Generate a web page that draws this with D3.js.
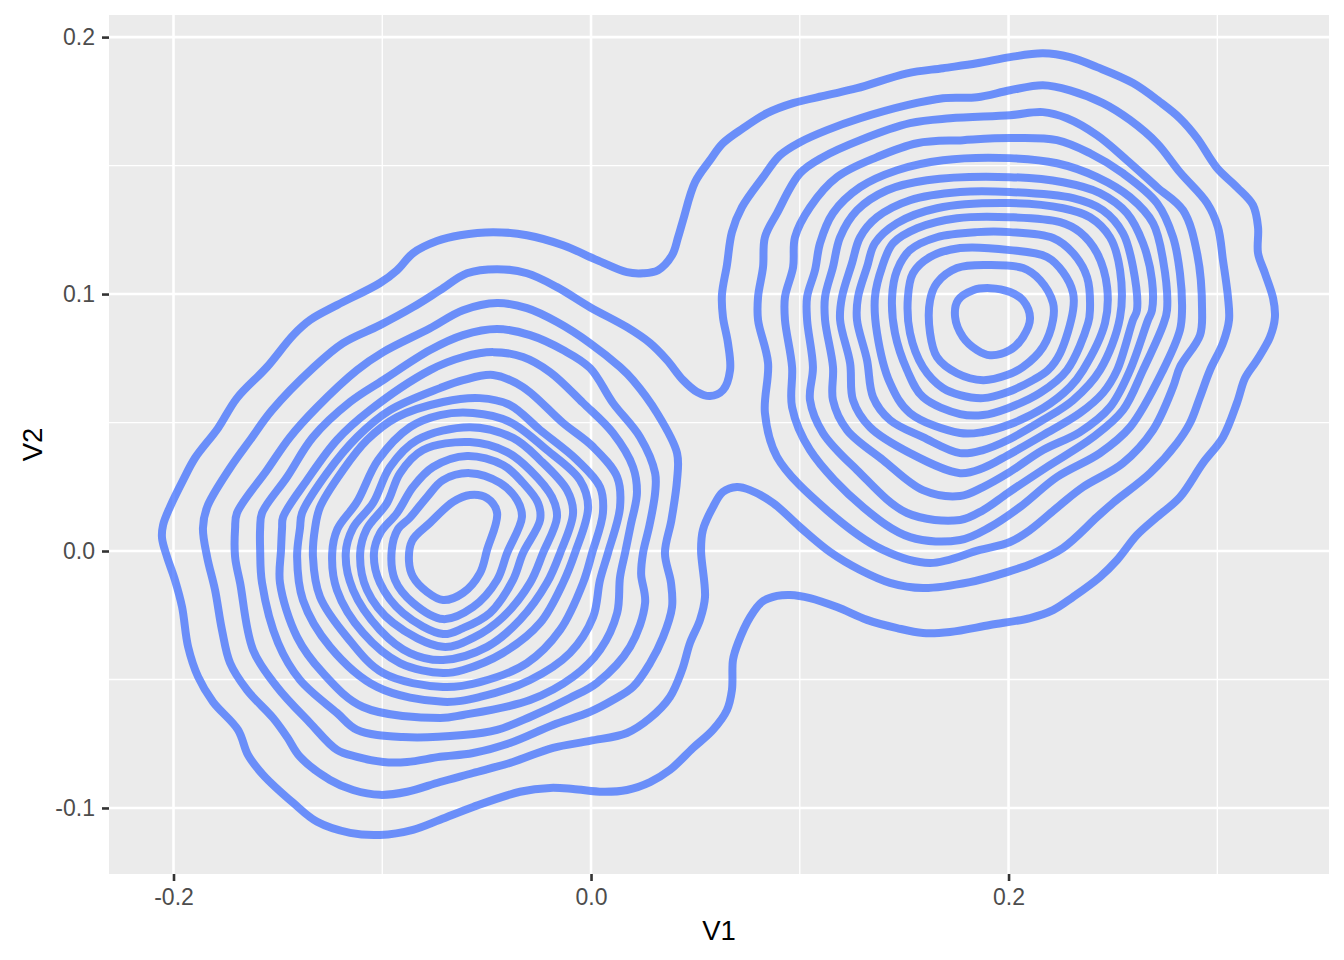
<!DOCTYPE html>
<html>
<head>
<meta charset="utf-8">
<script src="https://d3js.org/d3.v7.min.js"></script>
<style>
html, body { margin: 0; padding: 0; background: #fff; }
svg { display: block; font-family: "Liberation Sans", sans-serif; }
</style>
</head>
<body>
<div id="T"></div>
<script>
// ticks
const xMajor = [-0.2, 0, 0.2];
const xMinor = [-0.1, 0.1, 0.3];
const yMajor = [-0.1, 0, 0.1, 0.2];
const yMinor = [-0.05, 0.05, 0.15];
const xLabels = ["-0.2", "0.0", "0.2"];
const yLabels = ["-0.1", "0.0", "0.1", "0.2"];

// density contours, [V1, V2]
// the two outer ones go round both clusters
const outer1 = [[-.2050,.0101],[-.2017,.0171],[-.1954,.0276],[-.1897,.0362],[-.1787,.0478],[-.1696,.0595],[-.1552,.0716],[-.1427,.0840],[-.1346,.0899],[-.1217,.0957],[-.1011,.1043],[-.0929,.1093],[-.0853,.1159],[-.0738,.1206],[-.0627,.1229],[-.0469,.1241],[-.0307,.1229],[-.0134,.1190],[.0029,.1132],[.0172,.1085],[.0249,.1081],[.0321,.1093],[.0388,.1151],[.0417,.1221],[.0441,.1288],[.0498,.1435],[.0570,.1521],[.0632,.1587],[.0728,.1645],[.0843,.1704],[.0968,.1743],[.1130,.1774],[.1274,.1801],[.1514,.1859],[.1686,.1879],[.1849,.1898],[.2007,.1922],[.2165,.1937],[.2294,.1922],[.2424,.1883],[.2596,.1821],[.2726,.1747],[.2821,.1684],[.2903,.1607],[.2999,.1490],[.3094,.1416],[.3171,.1346],[.3195,.1260],[.3195,.1159],[.3228,.1081],[.3267,.0984],[.3276,.0910],[.3252,.0832],[.3190,.0743],[.3133,.0673],[.3094,.0576],[.3027,.0443],[.2931,.0342],[.2821,.0210],[.2711,.0132],[.2615,.0062],[.2520,-.0035],[.2438,-.0101],[.2309,-.0179],[.2213,-.0230],[.2103,-.0261],[.1911,-.0288],[.1720,-.0315],[.1590,-.0319],[.1466,-.0300],[.1322,-.0268],[.1178,-.0218],[.1049,-.0183],[.0953,-.0171],[.0891,-.0175],[.0819,-.0198],[.0762,-.0257],[.0704,-.0358],[.0680,-.0424],[.0675,-.0541],[.0651,-.0619],[.0584,-.0696],[.0489,-.0766],[.0378,-.0852],[.0283,-.0899],[.0172,-.0930],[.0057,-.0937],[-.0086,-.0926],[-.0196,-.0922],[-.0340,-.0937],[-.0565,-.0996],[-.0723,-.1046],[-.0853,-.1085],[-.1011,-.1105],[-.1154,-.1097],[-.1312,-.1054],[-.1427,-.0980],[-.1571,-.0871],[-.1643,-.0794],[-.1691,-.0696],[-.1811,-.0587],[-.1882,-.0490],[-.1930,-.0373],[-.1959,-.0218],[-.1993,-.0113],[-.2031,-.0023],[-.2055,.0050]];
const outer2 = [[-.1859,.0089],[-.1839,.0171],[-.1729,.0323],[-.1633,.0432],[-.1528,.0548],[-.1332,.0712],[-.1188,.0809],[-.1011,.0879],[-.0853,.0949],[-.0723,.1015],[-.0594,.1081],[-.0450,.1097],[-.0307,.1081],[-.0163,.1027],[-.0005,.0949],[.0172,.0871],[.0283,.0809],[.0364,.0743],[.0441,.0665],[.0508,.0619],[.0570,.0603],[.0632,.0626],[.0666,.0704],[.0656,.0809],[.0632,.0910],[.0627,.0996],[.0651,.1113],[.0675,.1241],[.0723,.1338],[.0824,.1455],[.0905,.1540],[.1001,.1591],[.1130,.1638],[.1289,.1684],[.1514,.1735],[.1686,.1762],[.1849,.1766],[.2007,.1793],[.2165,.1813],[.2294,.1793],[.2452,.1743],[.2582,.1677],[.2711,.1587],[.2821,.1474],[.2951,.1354],[.3003,.1260],[.3027,.1132],[.3051,.0988],[.3056,.0899],[.3027,.0809],[.2965,.0704],[.2917,.0599],[.2869,.0498],[.2807,.0420],[.2678,.0303],[.2500,.0187],[.2424,.0132],[.2261,.0012],[.2117,-.0047],[.1993,-.0082],[.1815,-.0121],[.1590,-.0144],[.1432,-.0124],[.1289,-.0074],[.1145,-.0004],[.1001,.0093],[.0872,.0187],[.0762,.0237],[.0699,.0249],[.0632,.0230],[.0584,.0171],[.0536,.0082],[.0527,.0004],[.0546,-.0179],[.0522,-.0268],[.0474,-.0358],[.0436,-.0463],[.0378,-.0568],[.0283,-.0650],[.0172,-.0708],[-.0005,-.0739],[-.0182,-.0766],[-.0374,-.0821],[-.0565,-.0864],[-.0723,-.0899],[-.0881,-.0937],[-.1011,-.0949],[-.1140,-.0930],[-.1250,-.0891],[-.1394,-.0801],[-.1456,-.0724],[-.1523,-.0650],[-.1648,-.0541],[-.1729,-.0436],[-.1768,-.0307],[-.1801,-.0152],[-.1839,-.0023]];

// left cluster
const left3 = [[-.1705,.0089],[-.1696,.0148],[-.1552,.0315],[-.1442,.0443],[-.1312,.0560],[-.1121,.0704],[-.0996,.0774],[-.0771,.0867],[-.0613,.0937],[-.0450,.0965],[-.0307,.0945],[-.0163,.0891],[-.0005,.0809],[.0139,.0716],[.0201,.0665],[.0316,.0537],[.0412,.0381],[.0412,.0276],[.0385,.0120],[.0354,-.0008],[.0383,-.0124],[.0388,-.0218],[.0345,-.0335],[.0283,-.0436],[.0201,-.0529],[.0105,-.0580],[-.0005,-.0626],[-.0182,-.0677],[-.0388,-.0747],[-.0565,-.0786],[-.0723,-.0801],[-.0881,-.0821],[-.0996,-.0821],[-.1121,-.0801],[-.1217,-.0774],[-.1346,-.0669],[-.1504,-.0529],[-.1619,-.0385],[-.1681,-.0124],[-.1705,-.0023]];
const left4 = [[-.1585,.0089],[-.1576,.0148],[-.1456,.0288],[-.1332,.0443],[-.1154,.0580],[-.0996,.0665],[-.0771,.0782],[-.0613,.0840],[-.0450,.0864],[-.0292,.0840],[-.0134,.0782],[-.0005,.0712],[.0105,.0576],[.0235,.0443],[.0307,.0303],[.0307,.0226],[.0280,.0100],[.0249,-.0008],[.0240,-.0090],[.0259,-.0202],[.0187,-.0373],[.0029,-.0513],[-.0101,-.0572],[-.0292,-.0646],[-.0450,-.0696],[-.0613,-.0716],[-.0901,-.0724],[-.1121,-.0696],[-.1217,-.0630],[-.1394,-.0502],[-.1499,-.0358],[-.1576,-.0124],[-.1585,.0004]];
const left5 = [[-.1480,.0089],[-.1475,.0132],[-.1360,.0276],[-.1217,.0432],[-.1059,.0548],[-.0771,.0704],[-.0613,.0755],[-.0469,.0774],[-.0326,.0755],[-.0196,.0696],[-.0038,.0576],[.0105,.0459],[.0201,.0327],[.0220,.0226],[.0190,.0100],[.0163,-.0008],[.0139,-.0101],[.0125,-.0241],[.0043,-.0385],[-.0086,-.0490],[-.0292,-.0580],[-.0613,-.0638],[-.0723,-.0650],[-.1092,-.0607],[-.1284,-.0475],[-.1408,-.0335],[-.1490,-.0124],[-.1485,.0004]];
const left6 = [[-.1394,.0089],[-.1384,.0148],[-.1265,.0303],[-.1121,.0443],[-.0963,.0548],[-.0723,.0634],[-.0613,.0665],[-.0469,.0685],[-.0326,.0638],[-.0134,.0498],[.0010,.0405],[.0125,.0288],[.0139,.0171],[.0081,-.0008],[.0043,-.0113],[.0010,-.0257],[-.0101,-.0397],[-.0292,-.0502],[-.0532,-.0568],[-.0709,-.0587],[-.1025,-.0529],[-.1250,-.0373],[-.1380,-.0191],[-.1408,-.0023]];
const left7 = [[-.1322,.0089],[-.1298,.0171],[-.1188,.0315],[-.1073,.0432],[-.0929,.0521],[-.0709,.0580],[-.0532,.0595],[-.0388,.0568],[-.0244,.0471],[-.0067,.0354],[.0043,.0249],[.0057,.0148],[.0005,-.0008],[-.0038,-.0124],[-.0148,-.0307],[-.0307,-.0436],[-.0532,-.0510],[-.0709,-.0529],[-.0996,-.0475],[-.1169,-.0335],[-.1298,-.0179],[-.1332,-.0023]];
const left8 = [[-.1240,-.0010],[-.1215,.0085],[-.1121,.0191],[-.1020,.0354],[-.0867,.0482],[-.0723,.0529],[-.0565,.0537],[-.0388,.0502],[-.0211,.0393],[-.0053,.0276],[-.0014,.0171],[-.0077,-.0008],[-.0134,-.0124],[-.0244,-.0280],[-.0422,-.0397],[-.0613,-.0463],[-.0709,-.0475],[-.0915,-.0436],[-.1092,-.0319],[-.1217,-.0152]];
const left9 = [[-.1175,-.0010],[-.1140,.0090],[-.1044,.0187],[-.0963,.0327],[-.0833,.0432],[-.0580,.0482],[-.0374,.0440],[-.0244,.0354],[-.0115,.0237],[-.0086,.0148],[-.0148,-.0008],[-.0211,-.0124],[-.0340,-.0268],[-.0498,-.0373],[-.0709,-.0424],[-.0867,-.0397],[-.1011,-.0307],[-.1140,-.0152]];
const left10 = [[-.1106,-.0010],[-.1075,.0085],[-.0977,.0187],[-.0915,.0303],[-.0805,.0393],[-.0580,.0424],[-.0402,.0385],[-.0292,.0315],[-.0187,.0210],[-.0163,.0132],[-.0230,-.0008],[-.0292,-.0124],[-.0422,-.0257],[-.0565,-.0338],[-.0709,-.0373],[-.0948,-.0280],[-.1073,-.0152]];
const left11 = [[-.1040,-.0010],[-.1010,.0070],[-.0929,.0148],[-.0853,.0249],[-.0757,.0327],[-.0594,.0370],[-.0422,.0335],[-.0326,.0265],[-.0254,.0187],[-.0244,.0121],[-.0326,-.0008],[-.0374,-.0113],[-.0484,-.0241],[-.0613,-.0300],[-.0709,-.0323],[-.0901,-.0241],[-.1011,-.0124]];
const left12 = [[-.0955,.0000],[-.0925,.0085],[-.0867,.0130],[-.0786,.0210],[-.0709,.0276],[-.0580,.0303],[-.0436,.0265],[-.0354,.0198],[-.0331,.0132],[-.0402,-.0008],[-.0450,-.0113],[-.0565,-.0218],[-.0709,-.0265],[-.0853,-.0202],[-.0939,-.0113]];
const left13 = [[-.0872,-.0040],[-.0857,.0040],[-.0771,.0110],[-.0661,.0191],[-.0580,.0218],[-.0498,.0206],[-.0450,.0148],[-.0498,.0004],[-.0532,-.0086],[-.0613,-.0163],[-.0709,-.0191],[-.0786,-.0159],[-.0853,-.0100]];

// right cluster
const right3 = [[.0800,.0988],[.0824,.1105],[.0833,.1221],[.0891,.1315],[.1001,.1470],[.1111,.1533],[.1289,.1599],[.1528,.1665],[.1720,.1684],[.2007,.1696],[.2165,.1708],[.2280,.1684],[.2424,.1618],[.2567,.1521],[.2711,.1416],[.2836,.1326],[.2903,.1159],[.2927,.0937],[.2917,.0840],[.2821,.0716],[.2788,.0638],[.2692,.0471],[.2548,.0342],[.2357,.0249],[.2247,.0179],[.2103,.0082],[.2007,.0035],[.1863,.0004],[.1624,-.0047],[.1399,.0004],[.1130,.0159],[.0891,.0366],[.0833,.0537],[.0848,.0731],[.0800,.0899]];
const right4 = [[.0929,.0988],[.0968,.1105],[.0977,.1221],[.1049,.1338],[.1178,.1455],[.1370,.1533],[.1562,.1587],[.1782,.1599],[.2007,.1607],[.2232,.1599],[.2390,.1548],[.2548,.1470],[.2711,.1354],[.2788,.1221],[.2821,.1081],[.2831,.0937],[.2821,.0860],[.2740,.0704],[.2582,.0482],[.2438,.0381],[.2232,.0288],[.2055,.0171],[.1911,.0093],[.1768,.0043],[.1528,.0054],[.1303,.0171],[.1049,.0393],[.0963,.0560],[.0963,.0716],[.0929,.0899]];
const right5 = [[.1035,.0988],[.1073,.1093],[.1097,.1198],[.1159,.1315],[.1289,.1416],[.1466,.1482],[.1686,.1521],[.2007,.1529],[.2232,.1509],[.2424,.1455],[.2582,.1377],[.2692,.1276],[.2740,.1132],[.2759,.0937],[.2740,.0879],[.2644,.0704],[.2548,.0548],[.2405,.0443],[.2184,.0327],[.1997,.0226],[.1878,.0159],[.1768,.0121],[.1514,.0148],[.1274,.0315],[.1111,.0459],[.1049,.0587],[.1063,.0716],[.1035,.0899]];
const right6 = [[.1121,.0988],[.1159,.1105],[.1193,.1221],[.1274,.1326],[.1418,.1404],[.1609,.1443],[.2007,.1455],[.2261,.1435],[.2438,.1393],[.2567,.1315],[.2644,.1198],[.2687,.1054],[.2687,.0937],[.2668,.0899],[.2582,.0704],[.2486,.0560],[.2342,.0463],[.2165,.0393],[.1997,.0303],[.1878,.0249],[.1768,.0214],[.1590,.0237],[.1399,.0354],[.1226,.0471],[.1159,.0587],[.1159,.0716],[.1121,.0899]];
const right7 = [[.1202,.0988],[.1250,.1120],[.1289,.1221],[.1370,.1299],[.1528,.1365],[.1768,.1397],[.2007,.1397],[.2309,.1373],[.2452,.1326],[.2548,.1237],[.2596,.1105],[.2615,.0937],[.2596,.0899],[.2520,.0704],[.2452,.0615],[.2342,.0537],[.2165,.0451],[.1997,.0373],[.1878,.0323],[.1768,.0303],[.1528,.0381],[.1336,.0482],[.1255,.0587],[.1241,.0731],[.1193,.0899]];
const right8 = [[.1279,.0988],[.1322,.1105],[.1360,.1198],[.1466,.1276],[.1657,.1334],[.2007,.1354],[.2261,.1334],[.2390,.1299],[.2486,.1221],[.2534,.1093],[.2534,.0910],[.2438,.0704],[.2309,.0587],[.2165,.0510],[.1997,.0432],[.1878,.0393],[.1768,.0381],[.1590,.0443],[.1432,.0510],[.1351,.0599],[.1322,.0743],[.1274,.0899]];
const right9 = [[.1360,.0988],[.1394,.1105],[.1447,.1198],[.1562,.1256],[.1753,.1295],[.2007,.1299],[.2247,.1280],[.2342,.1241],[.2424,.1159],[.2472,.1027],[.2462,.0887],[.2357,.0704],[.2294,.0638],[.2165,.0556],[.1997,.0490],[.1878,.0463],[.1768,.0459],[.1528,.0537],[.1432,.0654],[.1370,.0848]];
const right10 = [[.1442,.0988],[.1466,.1093],[.1528,.1171],[.1657,.1221],[.1849,.1241],[.2007,.1241],[.2213,.1218],[.2309,.1159],[.2376,.1066],[.2390,.0937],[.2381,.0887],[.2280,.0704],[.2151,.0615],[.1997,.0556],[.1878,.0529],[.1768,.0533],[.1590,.0599],[.1514,.0704],[.1456,.0848]];
const right11 = [[.1518,.0988],[.1542,.1081],[.1624,.1144],[.1768,.1179],[.2007,.1171],[.2184,.1144],[.2261,.1085],[.2309,.1004],[.2309,.0937],[.2247,.0770],[.2189,.0704],[.2117,.0665],[.1997,.0619],[.1878,.0595],[.1768,.0607],[.1686,.0634],[.1590,.0716],[.1528,.0848]];
const right12 = [[.1624,.0976],[.1657,.1043],[.1753,.1101],[.1897,.1113],[.2069,.1101],[.2151,.1054],[.2213,.0965],[.2213,.0899],[.2165,.0794],[.2069,.0716],[.1993,.0685],[.1878,.0665],[.1753,.0692],[.1657,.0755],[.1624,.0848]];
const right13 = [[.1758,.0976],[.1830,.1015],[.1911,.1023],[.2007,.1008],[.2069,.0976],[.2103,.0906],[.2069,.0832],[.2007,.0782],[.1911,.0762],[.1849,.0782],[.1782,.0832],[.1744,.0910]];

const contours = [outer1, outer2, left3, left4, left5, left6, left7, left8, left9, left10, left11, left12, left13,
    right3, right4, right5, right6, right7, right8, right9, right10, right11, right12, right13];

const width = 1344, height = 960;
const panel = { left: 109, right: 1329, top: 15, bottom: 874 };

const SVG = d3.select("#T").append("svg")
    .attr("width", width)
    .attr("height", height);

const x = d3.scaleLinear().domain([-0.2309, 0.3535]).range([panel.left, panel.right]);
const y = d3.scaleLinear().domain([-0.1257, 0.2086]).range([panel.bottom, panel.top]);

SVG.append("rect")
    .attr("x", panel.left).attr("y", panel.top)
    .attr("width", panel.right - panel.left).attr("height", panel.bottom - panel.top)
    .attr("fill", "#EBEBEB");

// grid
function grid(vals, isX, w) {
    SVG.append("g").selectAll("line").data(vals).join("line")
        .attr("x1", d => isX ? x(d) : panel.left)
        .attr("x2", d => isX ? x(d) : panel.right)
        .attr("y1", d => isX ? panel.top : y(d))
        .attr("y2", d => isX ? panel.bottom : y(d))
        .attr("stroke", "#fff")
        .attr("stroke-width", w);
}
grid(xMinor, true, 1.3);
grid(yMinor, false, 1.3);
grid(xMajor, true, 2.6);
grid(yMajor, false, 2.6);

// contours
const line = d3.line()
    .x(d => x(d[0]))
    .y(d => y(d[1]))
    .curve(d3.curveCatmullRomClosed.alpha(0.5));

SVG.append("g").selectAll("path").data(contours).join("path")
    .attr("d", line)
    .attr("fill", "none")
    .attr("stroke", "#3366FF")
    .attr("stroke-opacity", 0.7)
    .attr("stroke-width", 8)
    .attr("stroke-linejoin", "round");

// axes
const xAxis = d3.axisBottom(x).tickValues(xMajor).tickFormat((d, i) => xLabels[i]).tickSize(7).tickPadding(8);
const yAxis = d3.axisLeft(y).tickValues(yMajor).tickFormat((d, i) => yLabels[i]).tickSize(7).tickPadding(7);

const gx = SVG.append("g").attr("transform", `translate(0,${panel.bottom})`).call(xAxis);
const gy = SVG.append("g").attr("transform", `translate(${panel.left},0)`).call(yAxis);
[gx, gy].forEach(g => {
    g.select(".domain").remove();
    g.selectAll("line").attr("stroke", "#333333").attr("stroke-width", 2.6);
    g.selectAll("text").attr("fill", "#4D4D4D").style("font-size", "23px").style("font-family", '"Liberation Sans", sans-serif');
});

SVG.append("text")
    .attr("x", (panel.left + panel.right) / 2).attr("y", 940)
    .attr("text-anchor", "middle")
    .style("font-size", "27.5px")
    .text("V1");

SVG.append("text")
    .attr("transform", `translate(42,${(panel.top + panel.bottom) / 2}) rotate(-90)`)
    .attr("text-anchor", "middle")
    .style("font-size", "27.5px")
    .text("V2");
</script>
</body>
</html>
